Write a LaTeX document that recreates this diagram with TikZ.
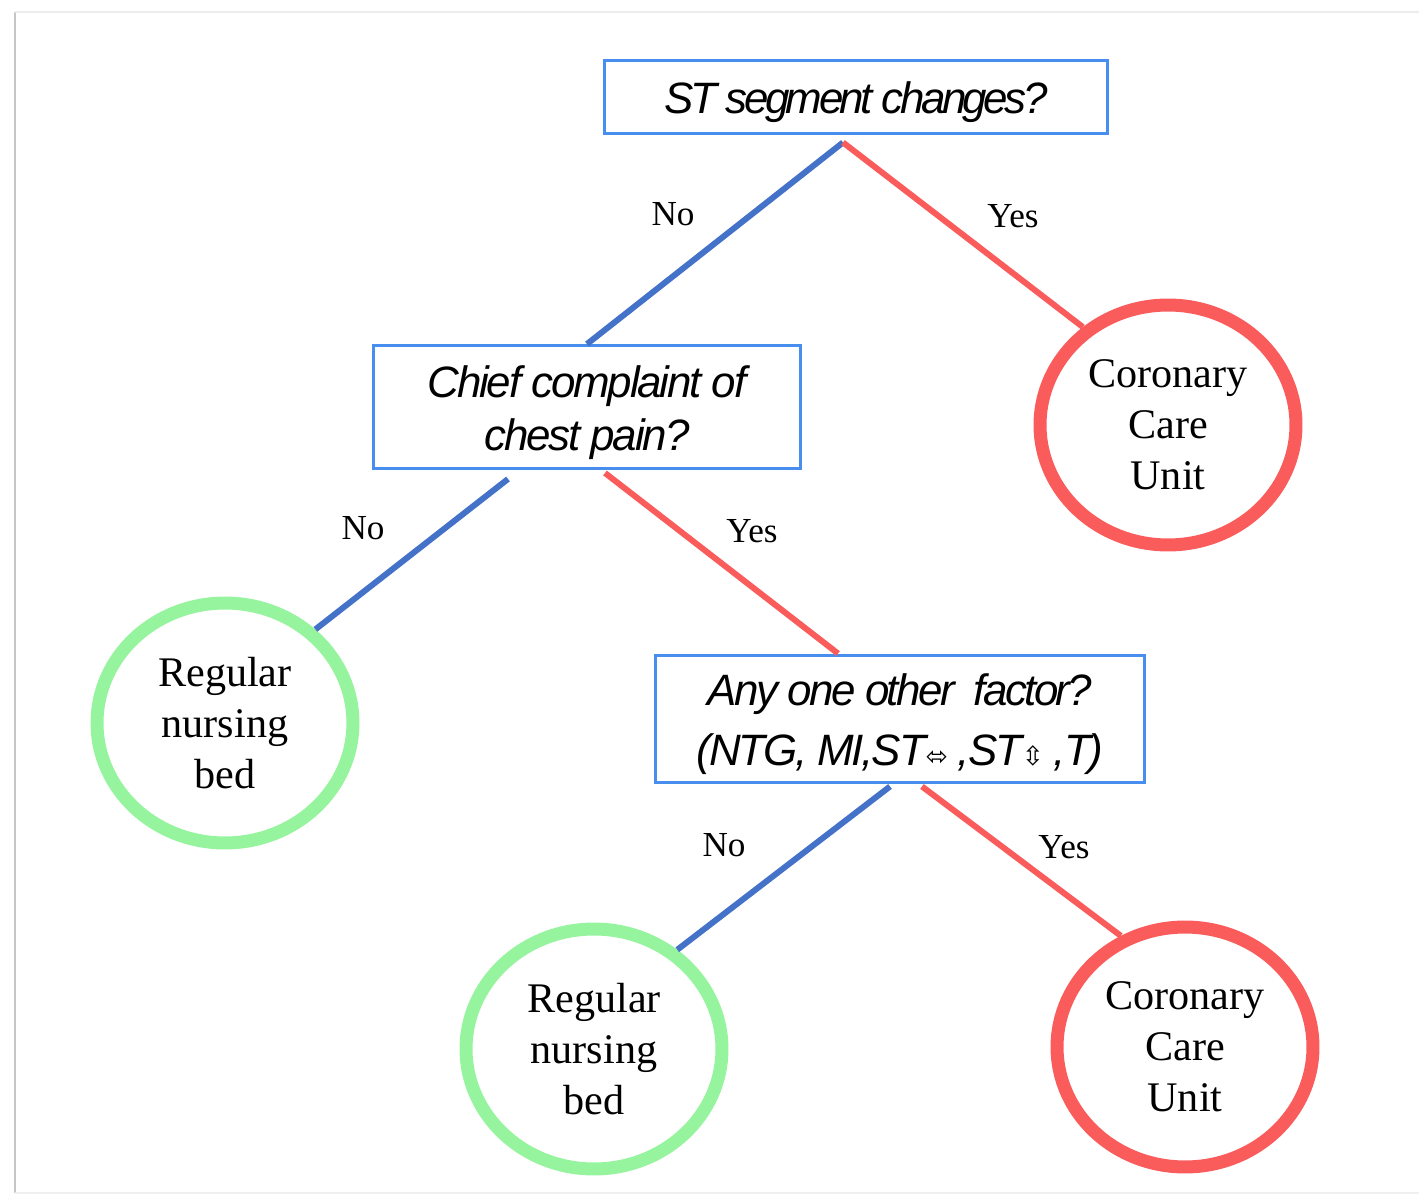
\documentclass[tikz,border=0pt]{standalone}
\usepackage{fontspec}
\setmainfont{Liberation Serif}
\newfontfamily\qfont{Liberation Sans}[LetterSpace=-5]
\newfontfamily\symfont{DejaVu Sans}
\usetikzlibrary{shapes.geometric}
\definecolor{boxblue}{RGB}{72,142,238}
\definecolor{noblue}{RGB}{68,114,200}
\definecolor{yesred}{RGB}{250,92,92}
\definecolor{bedgreen}{RGB}{150,244,158}
\newcommand\lowtext{\rule{0pt}{0.85cm}}
\tikzset{
  qbox/.style={draw=boxblue, line width=1.7pt, align=center, inner sep=0pt,
    font=\qfont\itshape\fontsize{25}{30}\selectfont},
  ward/.style={ellipse, line width=7.4pt, align=center, inner sep=0pt,
    minimum width=5.12cm, minimum height=4.8cm, font=\fontsize{24}{29}\selectfont},
  ccu/.style={ward, draw=yesred},
  bed/.style={ward, draw=bedgreen},
  noline/.style={draw=noblue, line width=3.4pt},
  yesline/.style={draw=yesred, line width=3.4pt},
  answer/.style={font=\fontsize{20}{24}\selectfont, inner sep=0pt}
}
\begin{document}
\begin{tikzpicture}[x=0.02cm, y=-0.02cm]
    \useasboundingbox (0,0) rectangle (1419,1195);
    % page frame
    \draw[gray!45, line width=1.5pt] (15,12) -- (15,1193);
    \draw[gray!15, line width=1pt] (15,12) -- (1419,12);
    \draw[gray!12, line width=1pt] (15,1193) -- (1419,1193);

    % questions
    \node[qbox, minimum width=10.06cm, minimum height=1.46cm] (st) at (856,97)
        {\lowtext\addfontfeature{LetterSpace=-8}ST segment changes?};
    \node[qbox, minimum width=8.56cm, minimum height=2.46cm] (chest) at (587,407)
        {\lowtext Chief complaint of\\chest pain?};
    \node[qbox, minimum width=9.8cm, minimum height=2.56cm,
          font=\qfont\itshape\fontsize{25}{34}\selectfont] (factor) at (900,719)
        {\lowtext\addfontfeature{LetterSpace=-6}Any one other~ factor?\\(NTG, MI,ST{\symfont\fontsize{15}{15}\selectfont ⬄} ,ST{\symfont\fontsize{15}{15}\selectfont ⇳} ,T)};

    % outcomes
    \node[ccu] (ccu1) at (1168,425) {Coronary\\Care\\Unit};
    \node[bed] (bed1) at (225,723) {Regular\\nursing\\bed};
    \node[bed] (bed2) at (594,1049) {Regular\\nursing\\bed};
    \node[ccu] (ccu2) at (1185,1047) {Coronary\\Care\\Unit};

    % branches
    \coordinate (stfork) at ([xshift=-0.26cm,yshift=-0.15cm]st.south);
    \draw[noline] (stfork) -- (chest.north);
    \draw[yesline] (stfork) -- (ccu1.131);
    \draw[noline] ([xshift=-1.58cm,yshift=-0.18cm]chest.south) -- (bed1.46);
    \draw[yesline] ([xshift=0.36cm,yshift=-0.06cm]chest.south) -- ([xshift=-1.24cm]factor.north);
    \draw[noline] ([xshift=-0.2cm,yshift=-0.04cm]factor.south) -- (bed2.50);
    \draw[yesline] ([xshift=0.44cm,yshift=-0.04cm]factor.south) -- (ccu2.120);

    % answers
    \node[answer] (no1) at (673,214) {No};
    \node[answer] (yes1) at (1013,216) {Yes};
    \node[answer] (no2) at (363,528) {No};
    \node[answer] (yes2) at (752,531) {Yes};
    \node[answer] (no3) at (724,845) {No};
    \node[answer] (yes3) at (1064,847) {Yes};
\end{tikzpicture}
\end{document}
